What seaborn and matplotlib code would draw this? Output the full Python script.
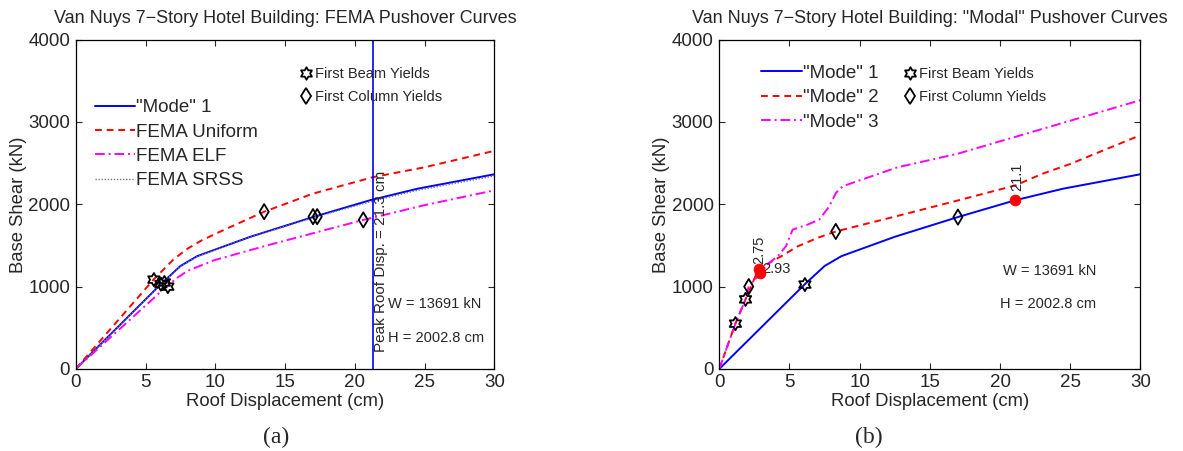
import numpy as np
import matplotlib
matplotlib.use('Agg')
import matplotlib.pyplot as plt
import seaborn as sns
from matplotlib.path import Path
from matplotlib.lines import Line2D

sns.set_style('ticks')
plt.rcParams['font.family'] = ['Liberation Sans', 'DejaVu Sans']

# ---- data ----
# "Mode" 1 pushover curve (same in both panels)
disp_m1 = [0, 6.1, 7.5, 8.7, 12.5, 17.0, 21.1, 24.5, 30]
shear_m1 = [0, 1030, 1250, 1370, 1605, 1845, 2050, 2190, 2365]

# FEMA curves (panel a)
disp_uni = [0, 5.6, 7.0, 8.0, 9.0, 10.5, 13.5, 17.0, 21.3, 25.0, 30]
shear_uni = [0, 1090, 1330, 1460, 1560, 1680, 1910, 2130, 2330, 2450, 2650]
disp_elf = [0, 6.5, 7.3, 8.0, 9.9, 13.7, 20.6, 25.0, 30]
shear_elf = [0, 1000, 1110, 1190, 1320, 1500, 1810, 1990, 2170]
disp_srss = [0, 6.1, 7.5, 8.7, 12.5, 17.0, 21.3, 24.5, 30]
shear_srss = [0, 1025, 1245, 1365, 1600, 1838, 2040, 2170, 2345]

beam_a_x = [5.6, 6.1, 6.35, 6.6]
beam_a_y = [1085, 1030, 1050, 1000]
col_a_x = [13.5, 17.0, 17.3, 20.6]
col_a_y = [1910, 1850, 1850, 1810]
peak_disp = 21.3

# modal curves (panel b)
disp_m2 = [0, 1.15, 1.87, 2.8, 4.4, 5.6, 7.0, 8.3, 12.5, 17.0, 21.1, 23.0, 25.0, 30]
shear_m2 = [0, 550, 845, 1215, 1368, 1490, 1592, 1670, 1850, 2047, 2230, 2370, 2490, 2840]
disp_m3 = [0, 1.15, 1.87, 2.1, 2.93, 3.5, 4.16, 4.75, 5.23, 6.3, 7.13, 7.84, 8.32, 8.8, 12.7, 17.0, 30]
shear_m3 = [0, 550, 845, 1000, 1165, 1280, 1368, 1490, 1693, 1754, 1815, 1977, 2140, 2220, 2450, 2615, 3265]

beam_b_x = [1.15, 1.87, 6.1]
beam_b_y = [550, 845, 1025]
col_b_x = [2.1, 8.3, 17.0]
col_b_y = [1000, 1670, 1845]
peak_b_x = [2.8, 2.93, 21.1]
peak_b_y = [1215, 1165, 2050]
peak_b_lab = ['2.75', '2.93', '21.1']

hexagram = Path.unit_regular_star(6, 0.577)


def setup(ax, title):
    ax.set_xlim(0, 30)
    ax.set_ylim(0, 4000)
    ax.set_xticks(np.arange(0, 31, 5))
    ax.set_yticks(np.arange(0, 4001, 1000))
    ax.tick_params(direction='in', top=True, right=True, labelsize=13.5,
                   length=4, width=0.8, pad=4)
    for s in ax.spines.values():
        s.set_visible(True)
        s.set_linewidth(0.9)
        s.set_color('k')
    ax.set_title(title, fontsize=13, pad=12)
    ax.set_xlabel('Roof Displacement (cm)', fontsize=13.3, labelpad=1)
    ax.set_ylabel('Base Shear (kN)', fontsize=13.3, labelpad=1)


def marks(ax, bx, by, cx, cy):
    sns.scatterplot(x=bx, y=by, ax=ax, marker=hexagram, s=90, color='none',
                    edgecolor='k', linewidth=1.3, zorder=5)
    sns.scatterplot(x=cx, y=cy, ax=ax, marker='d', s=60, color='none',
                    edgecolor='k', linewidth=1.3, zorder=5)


def marker_legend(ax, anchor):
    h = [Line2D([], [], ls='none', marker=hexagram, ms=9, mfc='none', mec='k', mew=1.3),
         Line2D([], [], ls='none', marker='d', ms=8, mfc='none', mec='k', mew=1.3)]
    leg = ax.legend(h, ['First Beam Yields', 'First Column Yields'], loc='upper left',
                    bbox_to_anchor=anchor, frameon=False, fontsize=10.5,
                    handlelength=0.8, handletextpad=0.2, labelspacing=0.65,
                    borderpad=0, borderaxespad=0)
    ax.add_artist(leg)


fig = plt.figure(figsize=(11.83, 4.51), dpi=100)
ax1 = fig.add_axes([0.064, 0.182, 0.354, 0.730])
ax2 = fig.add_axes([0.608, 0.182, 0.356, 0.730])

# ---- panel (a) ----
sns.lineplot(x=disp_m1, y=shear_m1, ax=ax1, color='#0000ff', lw=1.4, label='"Mode" 1', sort=False)
sns.lineplot(x=disp_uni, y=shear_uni, ax=ax1, color='#ff0000', lw=1.4, ls=(0, (3.5, 2.5)), label='FEMA Uniform', sort=False)
sns.lineplot(x=disp_elf, y=shear_elf, ax=ax1, color='#ff00ff', lw=1.4, ls=(0, (5, 2, 1, 2)), label='FEMA ELF', sort=False)
sns.lineplot(x=disp_srss, y=shear_srss, ax=ax1, color='#777777', lw=1.0, ls=(0, (1, 1.2)), label='FEMA SRSS', sort=False)
ax1.axvline(peak_disp, color='#0000ff', lw=1.2)
ax1.text(peak_disp + 0.1, 210, 'Peak Roof Disp. = %.1f cm' % peak_disp, rotation=90,
         fontsize=11, ha='left', va='bottom')
marks(ax1, beam_a_x, beam_a_y, col_a_x, col_a_y)
ax1.text(22.4, 790, 'W = 13691 kN', fontsize=10.5, va='center')
ax1.text(22.4, 380, 'H = 2002.8 cm', fontsize=10.5, va='center')
setup(ax1, 'Van Nuys 7\u2212Story Hotel Building: FEMA Pushover Curves')
handles, labels = ax1.get_legend_handles_labels()
marker_legend(ax1, (0.537, 0.917))
ax1.legend(handles[:4], labels[:4], loc='upper left', bbox_to_anchor=(0.045, 0.82),
           frameon=False, fontsize=13.5, handlelength=2.15, handletextpad=0.05,
           labelspacing=0.39, borderpad=0, borderaxespad=0)

# ---- panel (b) ----
sns.lineplot(x=disp_m1, y=shear_m1, ax=ax2, color='#0000ff', lw=1.4, label='"Mode" 1', sort=False)
sns.lineplot(x=disp_m2, y=shear_m2, ax=ax2, color='#ff0000', lw=1.4, ls=(0, (3.5, 2.5)), label='"Mode" 2', sort=False)
sns.lineplot(x=disp_m3, y=shear_m3, ax=ax2, color='#ff00ff', lw=1.4, ls=(0, (5, 2, 1, 2)), label='"Mode" 3', sort=False)
marks(ax2, beam_b_x, beam_b_y, col_b_x, col_b_y)
sns.scatterplot(x=peak_b_x, y=peak_b_y, ax=ax2, color='#ff0000', s=60, edgecolor='#ff0000', zorder=6)
ax2.text(peak_b_x[0] + 0.05, peak_b_y[0] + 60, peak_b_lab[0], rotation=90, fontsize=10.5,
         ha='center', va='bottom')
ax2.text(peak_b_x[1] + 0.1, peak_b_y[1] + 50, peak_b_lab[1], fontsize=10.5,
         ha='left', va='center')
ax2.text(peak_b_x[2] + 0.15, peak_b_y[2] + 110, peak_b_lab[2], rotation=90, fontsize=10.5,
         ha='center', va='bottom')
ax2.text(20.2, 1190, 'W = 13691 kN', fontsize=10.5, va='center')
ax2.text(20.0, 785, 'H = 2002.8 cm', fontsize=10.5, va='center')
setup(ax2, 'Van Nuys 7\u2212Story Hotel Building: "Modal" Pushover Curves')
handles, labels = ax2.get_legend_handles_labels()
marker_legend(ax2, (0.44, 0.917))
ax2.legend(handles[:3], labels[:3], loc='upper left', bbox_to_anchor=(0.1, 0.925),
           frameon=False, fontsize=13.5, handlelength=2.15, handletextpad=0.05,
           labelspacing=0.4, borderpad=0, borderaxespad=0)

fig.text(0.233, 0.018, '(a)', family=['Liberation Serif'], fontsize=17, ha='center')
fig.text(0.734, 0.018, '(b)', family=['Liberation Serif'], fontsize=17, ha='center')

fig.savefig('out.png', dpi=100)
